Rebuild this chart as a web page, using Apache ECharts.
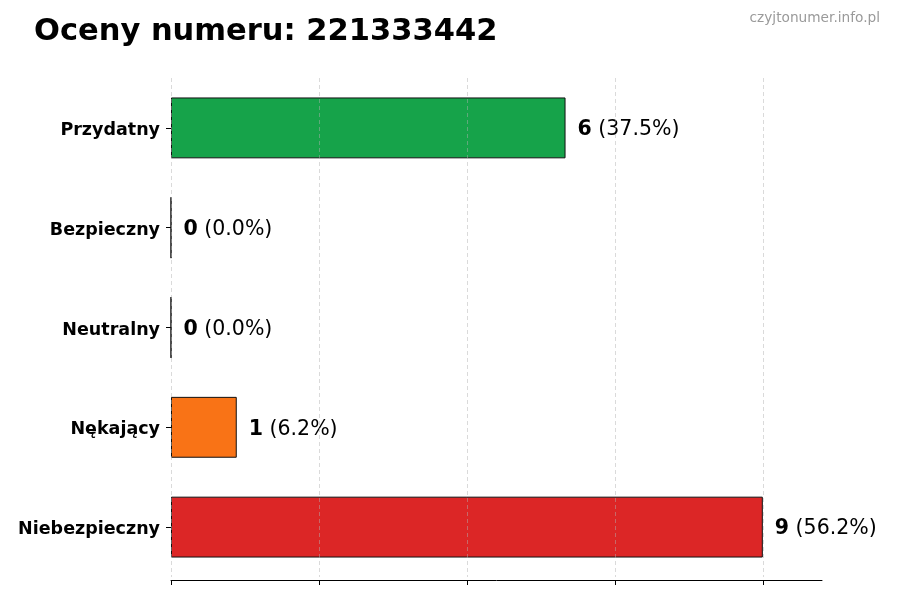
<!DOCTYPE html>
<html>
<head>
<meta charset="utf-8">
<script src="https://cdn.jsdelivr.net/npm/echarts@6/dist/echarts.min.js"></script>
<style>html,body{margin:0;padding:0;background:#fff}#c{width:900px;height:600px}</style>
</head>
<body>
<div id="c"></div>
<script>
var categories = ['Przydatny', 'Bezpieczny', 'Neutralny', 'Nękający', 'Niebezpieczny'];
var counts = [6, 0, 0, 1, 9];
var percents = ['37.5', '0.0', '0.0', '6.2', '56.2'];
var barColors = ['#16a34a', '#2563eb', '#6b7280', '#f97316', '#dc2626'];
var gridTicks = [0, 2.25, 4.5, 6.75, 9];
var xMax = 9.9;
var titleText = 'Oceny numeru: 221333442';
var watermark = 'czyjtonumer.info.pl';

var FONT = 'DejaVu Sans';
var chart = echarts.init(document.getElementById('c'), null, {renderer: 'canvas'});
chart.setOption({
  animation: false,
  backgroundColor: '#fff',
  textStyle: {fontFamily: FONT},
  title: {
    text: titleText, left: 34, top: 17, padding: 0,
    textStyle: {fontFamily: FONT, fontSize: 30.5, fontWeight: 'bold', color: '#000'}
  },
  graphic: [{
    type: 'text', right: 20, top: 11,
    style: {text: watermark, fontFamily: FONT, fontSize: 13.7, fill: '#9a9a9a'}
  }],
  grid: {left: 171, right: 78, top: 78, bottom: 23, containLabel: false},
  xAxis: {
    type: 'value', min: 0, max: xMax, offset: 3,
    axisLine: {show: true, lineStyle: {color: '#000', width: 1}},
    axisTick: {show: true, customValues: gridTicks, length: 5, lineStyle: {color: '#000'}},
    axisLabel: {show: false},
    splitLine: {show: false}
  },
  yAxis: {
    type: 'category', data: categories, inverse: true,
    axisLine: {show: false},
    axisTick: {show: true, alignWithLabel: true, length: 5, lineStyle: {color: '#000'}},
    axisLabel: {
      margin: 11,
      formatter: function (v) { return '{c|' + v + '}'; },
      rich: {c: {padding: [5, 0, 0, 0], fontFamily: FONT, fontSize: 17.5, fontWeight: 'bold', color: '#000'}}
    },
    splitLine: {show: false}
  },
  series: [{
    type: 'bar',
    barWidth: '61%',
    data: counts.map(function (v, i) {
      return {value: v, itemStyle: {color: barColors[i]}};
    }),
    itemStyle: {borderColor: '#111', borderWidth: 1, opacity: 1},
    label: {
      show: true, position: 'right', distance: 12, padding: [4, 0, 0, 0],
      formatter: function (p) {
        return '{b|' + counts[p.dataIndex] + '}{n| (' + percents[p.dataIndex] + '%)}';
      },
      rich: {
        b: {fontFamily: FONT, fontSize: 20.5, fontWeight: 'bold', color: '#000'},
        n: {fontFamily: FONT, fontSize: 20.5, color: '#000'}
      }
    },
    markLine: {
      silent: true, symbol: 'none', z: 10,
      label: {show: false},
      lineStyle: {type: [4, 3], color: '#b0b0b0', width: 0.8, opacity: 0.6},
      data: gridTicks.map(function (t) { return {xAxis: t}; })
    }
  }]
});
</script>
</body>
</html>
